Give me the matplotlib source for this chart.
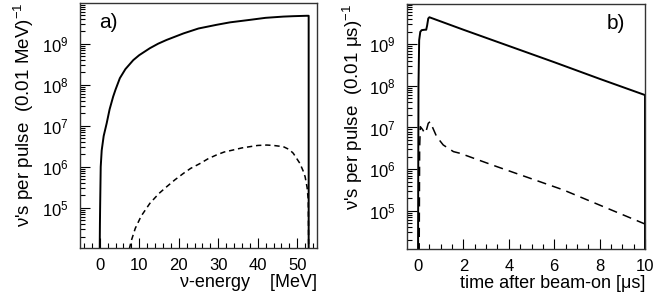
import numpy as np
import matplotlib.pyplot as plt

plt.rcParams["font.family"] = ["Liberation Sans", "DejaVu Sans"]
plt.rcParams["mathtext.default"] = "regular"

# a) energy spectrum (log10 of counts)
e_total = [0.0, 0.05, 0.1, 0.25, 0.5, 1.0, 1.76, 2.5, 3.4, 4.0, 5.1, 6.5,
           8.5, 10.0, 12.7, 14.8, 16.9, 21.2, 25.0, 29.6, 33.0, 38.0, 42.0,
           46.5, 49.0, 52.4, 52.9, 52.9]
log_total = [4.0, 4.6, 5.0, 6.0, 6.4, 6.75, 7.06, 7.4, 7.71, 7.88, 8.16, 8.38,
             8.60, 8.72, 8.89, 9.0, 9.09, 9.25, 9.37, 9.46, 9.52, 9.58, 9.63,
             9.66, 9.67, 9.68, 9.68, 4.0]
e_other = [7.5, 8.0, 9.0, 10.5, 12.7, 15.0, 16.9, 19.0, 21.2, 23.0, 25.4,
           27.5, 29.6, 31.5, 33.8, 36.0, 38.0, 40.0, 42.3, 44.0, 46.5, 48.0,
           49.0, 50.7, 51.5, 52.0, 52.5, 52.8, 52.9]
log_other = [4.0, 4.2, 4.5, 4.8, 5.11, 5.35, 5.51, 5.68, 5.84, 5.96, 6.08,
             6.2, 6.29, 6.36, 6.41, 6.46, 6.49, 6.52, 6.53, 6.52, 6.49, 6.42,
             6.33, 6.08, 5.9, 5.76, 5.5, 5.19, 4.0]

# b) time spectrum
t_total = [0.0, 0.02, 0.05, 0.1, 0.16, 0.3, 0.36, 0.4, 0.45, 0.5,
           2.0, 4.0, 6.0, 8.0, 10.0, 10.0]
log_t_total = [4.0, 8.0, 9.1, 9.3, 9.34, 9.35, 9.35, 9.45, 9.62, 9.65,
               9.35, 8.96, 8.57, 8.17, 7.78, 4.0]
t_other = [0.05, 0.07, 0.1, 0.2, 0.3, 0.35, 0.45, 0.53, 0.82, 1.11, 1.56,
           1.85, 3.47, 6.4, 10.0]
log_t_other = [4.0, 6.5, 7.02, 6.95, 6.86, 6.9, 7.1, 7.14, 6.78, 6.58, 6.42,
               6.38, 6.06, 5.50, 4.68]

fig = plt.figure(figsize=(6.55, 3.03), dpi=100)
ax1 = fig.add_axes([0.1221, 0.1815, 0.3618, 0.8086])
ax2 = fig.add_axes([0.6209, 0.1782, 0.3638, 0.8086])

ax1.plot(e_total, 10 ** np.array(log_total), color="black", lw=1.4)
ax1.plot(e_other, 10 ** np.array(log_other), color="black", lw=1.1,
         dashes=(3.5, 2.5))
ax2.plot(t_total, 10 ** np.array(log_t_total), color="black", lw=1.4)
ax2.plot(t_other, 10 ** np.array(log_t_other), color="black", lw=1.1,
         dashes=(6, 4))

for ax in (ax1, ax2):
    ax.set_yscale("log")
    ax.tick_params(which="both", direction="in", top=False, right=False,
                   labelsize=12, width=0.8)
    ax.tick_params(axis="y", pad=8)
    ax.tick_params(axis="x", pad=7)
    ax.tick_params(which="major", length=7)
    ax.tick_params(which="minor", length=3.5)
    for s in ax.spines.values():
        s.set_color("#333333")
        s.set_linewidth(1.0)

ax1.set_xlim(-5, 55)
ax1.set_ylim(1.05e4, 9.8e9)
ax1.set_xticks([0, 10, 20, 30, 40, 50])
ax1.set_xticks(np.arange(-4, 55, 2), minor=True)
ax1.set_xlabel("ν-energy    [MeV]", fontsize=13, loc="right", labelpad=1)
ax1.set_ylabel("ν's per pulse  (0.01 MeV)$^{-1}$", fontsize=13.5, loc="top")
ax1.yaxis.set_label_coords(-0.185, 1.0)
ax1.text(0.08, 0.96, "a)", transform=ax1.transAxes, fontsize=15,
         ha="left", va="top")

ax2.set_xlim(-0.5, 10)
ax2.set_ylim(1.2e4, 9.3e9)
ax2.set_xticks([0, 2, 4, 6, 8, 10])
ax2.set_xticks(np.arange(0, 10.01, 0.5), minor=True)
ax2.set_xlabel("time after beam-on [μs]", fontsize=13, loc="right", labelpad=1)
ax2.set_ylabel("ν's per pulse  (0.01 μs)$^{-1}$", fontsize=13.5, loc="top")
ax2.yaxis.set_label_coords(-0.175, 1.0)
ax2.text(0.84, 0.96, "b)", transform=ax2.transAxes, fontsize=15,
         ha="left", va="top")

fig.savefig("out.png", dpi=100)
